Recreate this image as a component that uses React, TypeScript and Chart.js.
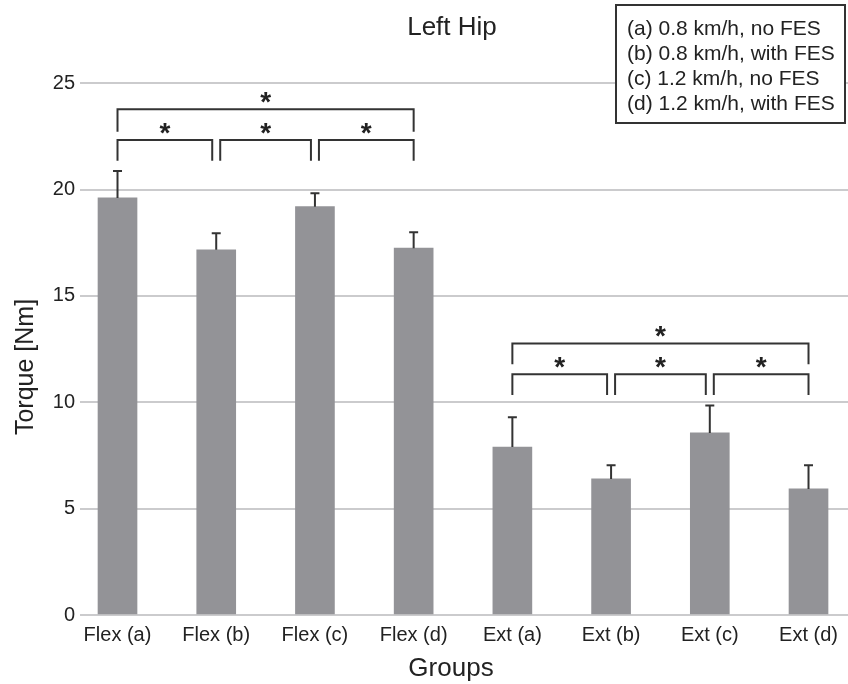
import React, { useEffect, useRef } from "react";
import { Chart, registerables } from "chart.js";

Chart.register(...registerables);

const categories = ["Flex (a)", "Flex (b)", "Flex (c)", "Flex (d)", "Ext (a)", "Ext (b)", "Ext (c)", "Ext (d)"];
const torqueMeans = [19.61, 17.17, 19.2, 17.25, 7.9, 6.4, 8.56, 5.93];
const torqueErrors = [1.27, 0.78, 0.63, 0.75, 1.4, 0.64, 1.29, 1.11];
const yTickValues = [0, 5, 10, 15, 20, 25];
const legendLines = ["(a) 0.8 km/h, no FES", "(b) 0.8 km/h, with FES", "(c) 1.2 km/h, no FES", "(d) 1.2 km/h, with FES"];

// significance brackets (category indices and heights in Nm)
const bracketFrom = [0, 1, 2, 0, 4, 5, 6, 4];
const bracketTo = [1, 2, 3, 3, 5, 6, 7, 7];
const bracketLevel = [22.33, 22.33, 22.33, 23.78, 11.32, 11.32, 11.32, 12.77];
const bracketDrop = [0.97, 0.97, 0.97, 1.06, 0.98, 0.98, 0.98, 0.98];
const bracketLabel = ["*", "*", "*", "*", "*", "*", "*", "*"];

const FONT = "'Liberation Sans', Arial, Helvetica, sans-serif";
const TEXT = "#222222";
const INK = "#333333";

const overlayPlugin = {
  id: "overlay",
  afterDatasetsDraw(chart: any) {
    const ctx = chart.ctx;
    const xs = chart.scales.x;
    const ys = chart.scales.y;
    ctx.save();
    // error bars (upper only)
    ctx.strokeStyle = INK;
    ctx.lineWidth = 2;
    torqueMeans.forEach((m, i) => {
      const x = xs.getPixelForValue(i);
      const y0 = ys.getPixelForValue(m);
      const y1 = ys.getPixelForValue(m + torqueErrors[i]);
      ctx.beginPath();
      ctx.moveTo(x, y0);
      ctx.lineTo(x, y1);
      ctx.moveTo(x - 4.5, y1);
      ctx.lineTo(x + 4.5, y1);
      ctx.stroke();
    });
    // brackets
    ctx.lineWidth = 2;
    ctx.strokeStyle = INK;
    ctx.fillStyle = TEXT;
    ctx.font = `bold 28px ${FONT}`;
    ctx.textAlign = "center";
    ctx.textBaseline = "alphabetic";
    bracketFrom.forEach((f, k) => {
      const t = bracketTo[k];
      const lvl = bracketLevel[k];
      const sharedLeft = bracketTo.some((tt, j) => j !== k && tt === f && bracketLevel[j] === lvl);
      const sharedRight = bracketFrom.some((ff, j) => j !== k && ff === t && bracketLevel[j] === lvl);
      const x1 = xs.getPixelForValue(f) + (sharedLeft ? 4 : 0);
      const x2 = xs.getPixelForValue(t) - (sharedRight ? 4 : 0);
      const yTop = ys.getPixelForValue(lvl);
      const yBot = ys.getPixelForValue(lvl - bracketDrop[k]);
      ctx.beginPath();
      ctx.moveTo(x1, yBot);
      ctx.lineTo(x1, yTop);
      ctx.lineTo(x2, yTop);
      ctx.lineTo(x2, yBot);
      ctx.stroke();
      const cy = ys.getPixelForValue(lvl + 0.54);
      const mt = ctx.measureText(bracketLabel[k]);
      const asc = mt.actualBoundingBoxAscent;
      const desc = mt.actualBoundingBoxDescent;
      ctx.fillText(bracketLabel[k], (x1 + x2) / 2, cy + (asc - desc) / 2);
    });
    ctx.restore();
  },
  afterDraw(chart: any) {
    const ctx = chart.ctx;
    ctx.save();
    ctx.fillStyle = TEXT;
    ctx.textAlign = "center";
    ctx.textBaseline = "alphabetic";
    ctx.font = `26px ${FONT}`;
    ctx.fillText("Left Hip", 452, 35);
    ctx.font = `26px ${FONT}`;
    ctx.fillText("Groups", 451, 676);
    ctx.save();
    ctx.translate(33, 367);
    ctx.rotate(-Math.PI / 2);
    ctx.font = `25px ${FONT}`;
    ctx.fillText("Torque [Nm]", 0, 0);
    ctx.restore();
    // legend box
    ctx.fillStyle = "#ffffff";
    ctx.fillRect(616, 5, 229, 118);
    ctx.strokeStyle = INK;
    ctx.lineWidth = 2;
    ctx.strokeRect(616, 5, 229, 118);
    ctx.fillStyle = TEXT;
    ctx.font = `21px ${FONT}`;
    ctx.textAlign = "left";
    ctx.textBaseline = "middle";
    legendLines.forEach((s, i) => {
      ctx.fillText(s, 627, 29 + i * 25);
    });
    ctx.restore();
  },
};

export default function App() {
  const ref = useRef<HTMLCanvasElement | null>(null);
  useEffect(() => {
    if (!ref.current) return;
    const chart = new Chart(ref.current, {
      type: "bar",
      data: {
        datasets: [
          {
            label: "Torque",
            data: torqueMeans.map((v, i) => ({ x: i, y: v })),
            backgroundColor: "#939397",
            borderWidth: 0,
            barThickness: 39,
          },
        ],
      },
      options: {
        animation: false,
        responsive: false,
        devicePixelRatio: 1,
        layout: { padding: { top: 83.3, left: 0, right: 0, bottom: 0 } },
        plugins: {
          legend: { display: false },
          title: { display: false },
          tooltip: { enabled: false },
        },
        scales: {
          x: {
            type: "linear",
            offset: false,
            min: -0.38,
            max: 7.4,
            afterBuildTicks: (s: any) => {
              s.ticks = categories.map((_, i) => ({ value: i }));
            },
            afterFit: (s: any) => {
              s.height = 69;
            },
            grid: { display: false, drawTicks: false, offset: false },
            border: { display: false },
            ticks: {
              autoSkip: false,
              maxRotation: 0,
              minRotation: 0,
              padding: 8,
              color: TEXT,
              font: { family: FONT, size: 20 },
              callback: (v: any) => categories[Math.round(Number(v))] ?? "",
            },
          },
          y: {
            type: "linear",
            min: 0,
            max: 25,
            afterBuildTicks: (s: any) => {
              s.ticks = yTickValues.map((v) => ({ value: v }));
            },
            afterFit: (s: any) => {
              s.width = 80;
            },
            grid: { color: "#cbcbcd", lineWidth: 2, drawTicks: false },
            border: { display: false },
            ticks: {
              padding: 5,
              color: TEXT,
              font: { family: FONT, size: 20 },
            },
          },
        },
      },
      plugins: [overlayPlugin],
    } as any);
    return () => chart.destroy();
  }, []);
  return (
    <div style={{ position: "fixed", left: 0, top: 0, width: 848, height: 684, background: "#fff" }}>
      <canvas ref={ref} width={848} height={684} />
    </div>
  );
}
